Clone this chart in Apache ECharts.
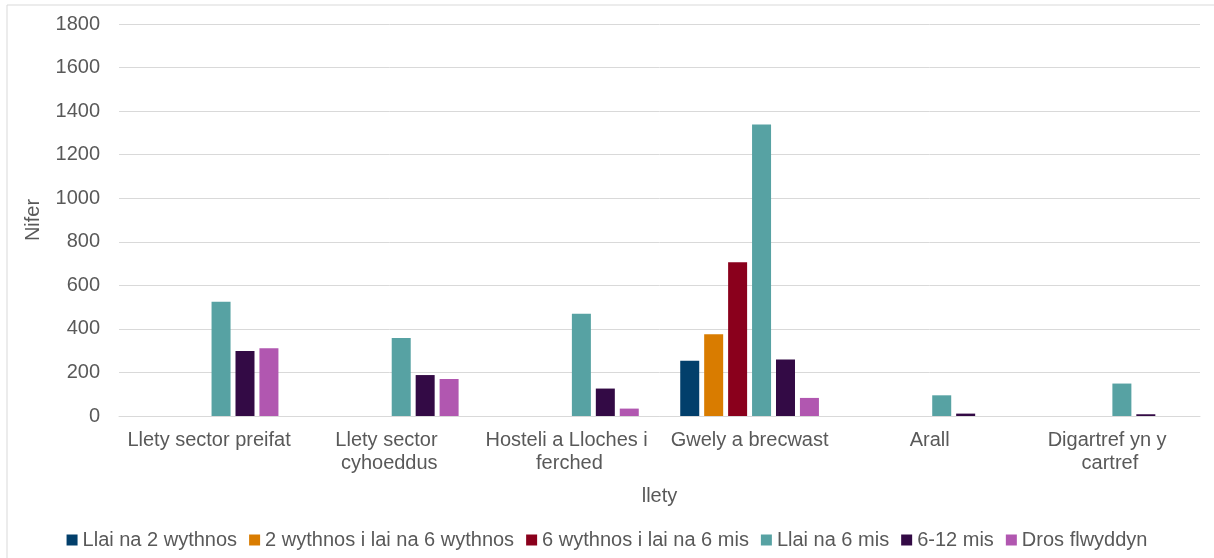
<!DOCTYPE html>
<html>
<head>
<meta charset="utf-8">
<script src="https://cdn.jsdelivr.net/npm/echarts@6/dist/echarts.min.js"></script>
<style>
  html, body { margin: 0; padding: 0; background: #fff; }
  #chart { width: 1214px; height: 558px; }
</style>
</head>
<body>
<div id="chart"></div>
<script>
// categories (llety)
const categories = ['Llety sector preifat', 'Llety sector cyhoeddus', 'Hosteli a Lloches i ferched', 'Gwely a brecwast', 'Arall', 'Digartref yn y cartref']
const seriesNames = ['Llai na 2 wythnos', '2 wythnos i lai na 6 wythnos', '6 wythnos i lai na 6 mis', 'Llai na 6 mis', '6-12 mis', 'Dros flwyddyn']
const llaiNa2Wythnos = [0, 0, 0, 254, 0, 0]
const wythnos2i6 = [0, 0, 0, 375, 0, 0]
const wythnos6iMis6 = [0, 0, 0, 706, 0, 0]
const llaiNa6Mis = [525, 358, 470, 1338, 95, 149]
const mis6i12 = [298, 188, 126, 260, 11, 8]
const drosFlwyddyn = [311, 170, 34, 83, 0, 0]
const yTicks = [0, 1800, 200]

const cols = ['#023F6B', '#D97C00', '#8A001C', '#57A2A3', '#330A45', '#B157B0']
const values = [llaiNa2Wythnos, wythnos2i6, wythnos6iMis6, llaiNa6Mis, mis6i12, drosFlwyddyn]
const textCol = '#595959'
const font = 'Liberation Sans, Arial, sans-serif'

const chart = echarts.init(document.getElementById('chart'))
const option = {
  animation: false,
  textStyle: { fontFamily: font },
  graphic: [{
    type: 'rect',
    shape: { x: 7, y: 5, width: 1220, height: 600 },
    style: { fill: 'none', stroke: '#d9d9d9', lineWidth: 1 },
    silent: true
  }],
  grid: { left: 119, right: 14, top: 24, bottom: 142 },
  legend: {
    bottom: 3,
    left: 'center',
    icon: 'rect',
    itemWidth: 11,
    itemHeight: 11,
    itemGap: 12,
    textStyle: { color: textCol, fontSize: 20, fontFamily: font, padding: [0, 0, 0, 0] },
    data: seriesNames
  },
  xAxis: {
    type: 'category',
    data: categories,
    name: 'llety',
    nameLocation: 'middle',
    nameGap: 70,
    nameTextStyle: { color: textCol, fontSize: 20 },
    axisLine: { lineStyle: { color: '#d9d9d9' } },
    axisTick: { show: false },
    axisLabel: {
      color: textCol,
      fontSize: 20,
      margin: 13,
      width: 180,
      overflow: 'break',
      lineHeight: 23,
      interval: 0
    }
  },
  yAxis: {
    type: 'value',
    min: yTicks[0],
    max: yTicks[1],
    interval: yTicks[2],
    name: 'Nifer',
    nameLocation: 'middle',
    nameGap: 76,
    nameTextStyle: { color: textCol, fontSize: 20 },
    axisLine: { show: false },
    axisTick: { show: false },
    axisLabel: { color: textCol, fontSize: 20, margin: 19, formatter: v => String(v) },
    splitLine: { lineStyle: { color: '#d9d9d9' } }
  },
  series: seriesNames.map((n, i) => ({
    name: n,
    type: 'bar',
    barWidth: 19,
    barGap: '26%',
    itemStyle: { color: cols[i] },
    data: values[i]
  }))
}
chart.setOption(option)
</script>
</body>
</html>
